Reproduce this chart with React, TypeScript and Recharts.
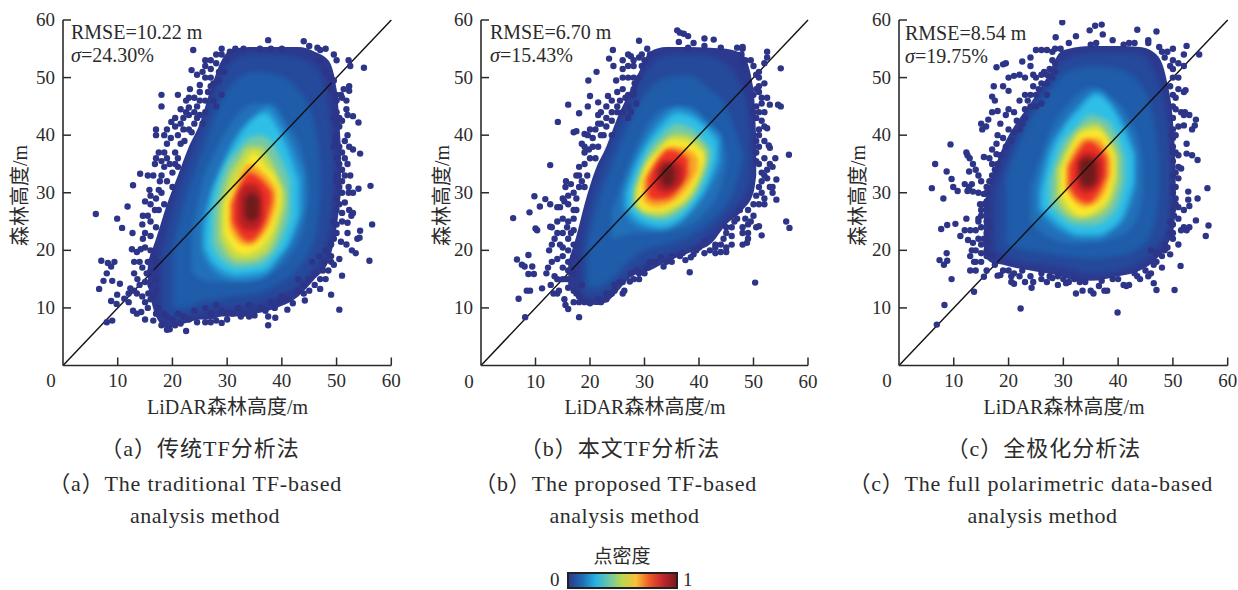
import React from 'react';
import { ComposedChart, Area, Scatter, XAxis, YAxis, ReferenceLine } from 'recharts';

type Row = [number, number, number];
type Pt = [number, number];

const xTicks = [0, 10, 20, 30, 40, 50, 60];
const yTicks = [10, 20, 30, 40, 50, 60];

// colours of the density levels, outer to inner
const levelColors = ['#2b3a8f', '#25499b', '#1f5ca9', '#2270b8', '#2390d0', '#2fbfe6', '#74c9a6', '#c5da4b', '#fde92c', '#f8a228', '#ee3225', '#b71f24', '#6e1b1b'];
const barColors = ['#2b3a8f', '#1f6cb5', '#27b3e0', '#6cc7a8', '#bcd64f', '#f8c23a', '#ef5a28', '#c2272d', '#7a1c1c'];
const dotColor = '#2c3587';

// density contours: [x, lower y, upper y]
const levelsA: Row[][] = [
  [[15.5,14,18],[17,8.5,22],[19,6.5,28],[21,7,33],[23,7.5,38],[25,8,42],[27,8,48],[29,8.5,53],[31,8.5,55],[35,9,55.3],[39,10,55.3],[43,12,55.3],[46,15,54.5],[48.5,18,53],[50,24,48],[50.8,30,38]],
  [[18,9,19],[20,8,27],[22,8.5,33],[24,9,38],[26,9.5,43],[28,10,48],[30,10,52],[34,10.5,54],[39,12,54],[43,14,53.5],[46,17,52],[48,21,48],[49,26,42],[49.5,32,36]],
  [[20,10,20],[22,10,28],[25,11,36],[28,11.5,44],[31,12,49],[35,12.5,51],[39,14,50.5],[43,17,48],[46,22,42],[47,29,36]],
  [[23.5,16.5,23],[25,15,30],[28,14.5,37.5],[31,14.5,42.5],[35,14.8,45.5],[38,16,45.5],[41,18.5,42],[44,24,36],[44.8,29,32]],
  [[25.3,20,25],[27,17,30],[29,15.5,35],[32,14.8,40.5],[35,15,43.5],[37.5,16,45],[40,19,42],[42,22,38],[44,27,33]],
  [[26,20.5,23.5],[27,18.5,29],[28.5,17,33],[30,16.2,36],[32,15.8,39.5],[34,16,42],[37,16.6,43.8],[39,18.6,41.5],[41,21,37.5],[43,26,32]],
  [[27.3,21,26],[28.5,19,31],[30,17.7,35],[32,17,37.5],[34,17.2,39.5],[36,17.5,40],[38,19,39],[40,22,35.5],[41.5,26,32]],
  [[28.6,22,27],[30,19.5,32],[32,18.2,35.5],[34,18.2,38],[36,18.8,38],[38,20.5,35.5],[39.5,24,32.5],[40.6,28,30]],
  [[29.5,23,28],[31,20.5,31],[33,19.3,34.5],[35,19.8,37],[37,21.5,34.5],[38.5,24,33],[39.7,28,30.5]],
  [[30.4,24,28],[32,21.5,32],[34,20.8,35],[36,22,34],[38,25,32],[39,28,30.5]],
  [[30.9,25,28],[32,23,30.5],[34,21.5,33.5],[36,23,32.5],[37.5,26,31],[38.2,28.5,30]],
  [[32,25,29.5],[33.5,23.5,31.5],[35,23.5,31.5],[36.5,25.5,29.5]],
  [[33.2,26,29],[34.5,25,30],[35.8,26,29]],
];

const levelsB: Row[][] = [
  [[16,14,18],[17.5,12,22.5],[19,10.8,28],[21,10.5,34],[23,11,38],[25,12.8,43],[27,15,47],[29,16,51],[31,16.5,54.5],[34,18,55.3],[38,19.5,55.3],[42,21,55.2],[45,24.5,55],[48,27,54],[50,30,48],[50.5,33,40]],
  [[18.5,13,20],[20,12,28],[22,12,34],[25,14,41],[28,16.5,47],[31,18,52],[35,19.5,54],[40,21.5,54],[44,25,53],[47,28,50],[49,31,44],[49.5,34,38]],
  [[19.5,14,21],[21,13.5,27],[24,15,35],[27,18,42],[30,20,47],[34,21,50],[38,22.5,50.5],[42,25,48],[45,28,45],[47,32,40],[48,36,37]],
  [[24,22,27],[26,22.5,32],[28,23,37],[30,23,41],[34,23.3,44.8],[38,24.3,45],[41,26.5,43],[44,31,39.5],[45,35,37]],
  [[26,27,30],[27.5,25,34],[30,23.8,39],[33,23.5,43],[36,24.5,44.8],[39,27,44],[42,31,41.5],[44,35,40]],
  [[26.8,27.5,30],[28,26,33.5],[30,24.8,37.5],[33,24.1,41.5],[36,25,43.8],[39,27.8,43],[41.5,31.5,41],[43.3,36,39]],
  [[28,27.5,31],[30,26,36],[33,25.3,40],[36,26.2,42],[39,29,41],[41,32.5,39],[42.2,36,37.5]],
  [[28.2,28,30],[30,26.5,34.5],[33,26,38.5],[36,27.2,40.2],[39,30,39.5],[41.2,35,37.5]],
  [[28.8,28,30.5],[30,27,34],[32.5,26.8,37],[35,27.5,39.2],[38,29.7,38.8],[40,33,37.5],[40.9,35.5,36.8]],
  [[29.8,28.5,32],[32,27.5,35.5],[35,28.3,38],[38,31,37.5],[39.8,34,36]],
  [[30.5,29.5,32.5],[32,28.7,35],[34.5,29,37.5],[36.5,31,37],[38,33,36]],
  [[32,31,33.5],[33.5,30,35.5],[35.5,30.5,35.5],[37,32,34.5]],
  [[33,32,34],[34.2,31,35],[35.5,32,34.2]],
];

const levelsC: Row[][] = [
  [[15.5,19,28],[17,17.8,33],[19,17.5,38],[21,17,41.5],[24,16.5,45.5],[27,16,50],[29.5,15.5,54.5],[31,15,55],[35,14.7,55.5],[40,15.5,55.5],[44,16.5,55.3],[47,18.5,54],[49,21,49],[50.2,24,40],[50.5,28,34]],
  [[17.5,20,30],[20,18.8,37],[23,18,43],[27,17.5,49],[30,17,53],[35,16,54.2],[40,16.5,54.3],[44,18,54],[47,20.5,50],[49,24,42],[49.5,29,36]],
  [[19.5,21,33],[23,20,41],[27,19.5,47],[30,19,50.5],[35,18.5,52],[40,19,51.5],[44,20.5,49],[46.5,24,43],[47.5,30,36]],
  [[24,25,31],[26,23,36.5],[28,22,41.5],[31,21.2,45.5],[35,21.3,48.3],[39,22,46.5],[42,23.5,43],[44,27,38],[44.5,30,35]],
  [[25.3,27,31],[27,25,37],[30,23,42],[33,22,45.5],[36,22,47.8],[39,23.5,45.5],[41.5,26,41.5],[43.3,31,37]],
  [[26,27.5,30],[27.5,26,36],[30,24,41],[33,22.8,44.5],[36,22.8,47],[39,24,44.5],[41,26.5,41],[42.8,32,36.5]],
  [[27.5,28,32],[29.5,26,38],[32,24.5,41],[35,24.3,43.5],[38,25.5,42.5],[40,28,39.5],[41.2,32,36]],
  [[28.8,29,34],[30.5,26.5,37.5],[33,25.5,41],[36,26,42],[38.5,28,39.5],[40,32,36.5]],
  [[29.6,30,34],[31,27.5,37],[33.5,26,40.5],[36,27,41],[38.3,29.5,38.5],[39.3,33,36]],
  [[30.5,30.5,34.5],[32,28.5,37.5],[34,27.5,39.5],[36,28.2,39.5],[38,31,37.5],[38.7,33.5,35.5]],
  [[31,31,34.5],[32.5,29,37],[34.5,28.2,39],[36.5,30,38],[37.9,33,36]],
  [[32.5,31,35],[34,30,37],[36,31,36.5],[37,33,35.5]],
  [[33,32,35.5],[34.5,31,36],[36,32,35]],
];

// sparse samples at the rim of each cloud: [x, y]
const dotsA: Pt[] = [
  [6,26.3],[9.9,25.5],[10.8,23.9],[11.8,27.6],[12.8,31.3],[14.1,33.3],[7,18.2],[8.2,17.8],[9.4,18],[8.8,17.2],[8,16],[7.4,14.7],[6.6,13.3],[9,14.7],[10.4,14.2],[8.8,11.2],[9.9,12.3],[9.8,10.7],[8,7.5],[9,7.8],[11.2,11.6],[12,11],[12.3,13.4],[12.7,23],[12.6,20.2],[13.5,19.7],[14.2,20.2],[13,18],[14,18],[13,16],[13.6,15],[14.5,17],[15.3,16],[15,14.5],[13.5,12.5],[12.8,9.5],[13.5,9],[14.3,9.3],[15,8],[15.5,10],[16.5,7.8],[14.5,12],[15.6,12.5],[16,16.5],[14.5,24.5],[14.6,26],[15,23],[14.6,22],[15,28.5],[16,28],[16.8,27],[17.5,27],[18.5,28],[16,25],[17,24],[15.8,30.5],[15.5,33],[16.5,33],[16.8,35],[17,36],[17.7,32],[18,30],[19,32],[20,31],[17,41],[17,40],[18,45],[18,47],[17.5,37],[18.5,37],[19,38.5],[19.7,39.5],[19.8,42.3],[19.5,35],[20.5,37],[21,40],[21.5,38.5],[22.2,39],[21,47],[22.5,44],[23,43.5],[22.5,46],[23,41],[24,42],[23.5,40.5],[24,44],[24.5,45],[25,46],[23.2,48],[23.5,51.3],[24.5,50.5],[25,48.7],[23.8,54.8],[26,52],[26,53],[27,50],[27,48.5],[27.5,46],[28,45],[26,44],[27,51.5],[28,52.5],[29,54],[29,55],[27.5,49],[29,47],
  [18,7],[19,6.2],[19.5,6.3],[20.5,7],[21.5,7.3],[22.5,6],[23,8],[24.5,7.5],[26,7.5],[27,7.5],[28,7.8],[29,7.4],[30,9],[30,8],[32.5,8.5],[34,8.5],[35,8.7],[37.5,7],[37.5,8.5],[38.8,8.3],[38.7,10],[41,9.7],[42,10.8],[44.2,11.3],[43,13],[40,12],[38,11],[36,10],[34,10.5],[32,10],[28,10.5],[26,10],[24,9.5],[21,9],[19,8.5],[17.5,10],
  [50.5,9.7],[49,12.3],[51,15.6],[47,13.3],[45,15],[46,16],[47.5,16.5],[48.5,16.5],[49.5,17.5],[50.5,18.5],[49,19],[47.8,18],[46.8,19],[45.5,18],[44,14],[43,15],[53.5,19.5],[52.8,20],[56,18.2],[56.5,24.5],[54.3,23.4],[53.8,22],[54.2,22.2],[52,23],[51.8,21],[50.8,21.5],[50,23],[50,24.5],[51,25],[52,24.8],[52.7,26],[53,26.5],[52.3,27],[51.5,28.3],[50.5,28],[52.2,30],[53,30],[54,30.7],[56.2,31.2],[52.2,31],[50.5,31],[51.5,33],[52.5,33],[51,34],[50,33],[52,35],[50,36],[54.3,36.8],[53,37.5],[52.3,38],[51.5,39],[52,40],[50,40],[49.5,38],[54,42.2],[52,43.5],[53,43.3],[51.8,44.5],[50,44],[50.5,41.5],[51.8,46],[51,46.5],[50.8,47],[52.3,47.7],[52.3,48.5],[51.3,48],[49.5,49.5],[52.5,52],[52.2,53],[55,51.7],[50,53],[49.5,54],[48,55],[47,54.8],[46.5,55.2],[45,55.5],[44,56.3],[37.5,56.5],[38,55],[40,55],[36,55],[33,55],[31.5,55],[47,53],[48,51],[49,50],
  [15.5,18],[16,20],[16.5,19],[17,18],[15,20.5],[16,22.5],[15.5,26],[17,29],[16,29.5],[17.5,30.5],[18,33],[18.5,34.5],[18,35.5],[19,36],[20,33.5],[20.5,35],[21,36],[21,34.5],[18.5,40],[19,41],[20.5,41.5],[20.5,43],[21.5,42],[22,41],[22,43],[21.5,44.5],[23,44.8],[24,46.5],[23,46.5],[24.5,43],[25,43.5],[25.5,42],[26,46],[25,47.5],[26.5,47.5],[26,50],[25.5,51],[27,53],[28,54],[28.5,49.5],[28.5,51],[29.5,51],[30,53],[30.5,54.5],[13,13],[14,14],[16,14],[17,13],[16,11.5],[17,9],[18.5,9],[20,8],[22,8.5],[16.5,12],[17,15],[15,11],[12,12.5],
  [49,48],[50,47],[50,46],[49.5,43],[50.5,43],[50,42],[51,42.5],[49.8,39],[50.5,38],[51,37],[51.5,36],[50.5,35],[50,32],[51,32],[51,30],[50,29],[50,27],[51,26.5],[49.5,25],[49.5,22],[49,21],[48,20],[49,18],[48,15],[47,15],[46,14],[45,13],[44,12.5],[41,11.5],[39.5,11],[37,9.5],[33,9],[31,9],[29,9.5],[27,9],
];

const dotsB: Pt[] = [
  [5.9,25.6],[6.6,18.4],[8.7,19.2],[7.5,17.5],[8,17.2],[9.4,17.2],[8.7,15.9],[9.7,15.9],[8.4,13],[9,13],[6.9,11.6],[8.1,8.4],[11.2,13.4],[9.8,29.4],[8.9,26.6],[10.8,27.6],[11.8,28.9],[12.7,28],[12.7,34.8],[14.1,42.3],[10,23.8],[10.3,23.5],[12.7,24.1],
  [13,24],[14,23],[13.5,22],[13,21],[12.5,20],[14.5,21],[15,19],[14,18.5],[13,18],[12.3,17],[12,16],[13.5,15.5],[15,15],[14,15],[15.8,15],[16,16.5],[12.8,14],[13.3,12.5],[14,12.5],[14.3,13],[15.3,11.5],[15.5,10.5],[16,9.8],[18,8.4],[14,25],[15,25.5],[16,25],[15.8,24],[15,23],[16,22],[17,25.5],[14.5,27.5],[14,27.5],[15,29],[15.3,28.5],[16,28],[15.5,31],[15.6,32],[16.5,31.5],[17,30],[17.5,33],[18,34.5],[19,35],[19.5,33],[17.5,27],[18.5,38.5],[19,40.2],[19.6,40],[19.8,37.5],[20.5,38],[21,41],[22,40],[21.5,42],[19.6,45],[20,46.8],[19.7,49.5],[21.5,45.7],[21.2,51],[23,45],[16,45.3],[18,43.8],[17,40.5],[17.5,40.7],[21.5,43.5],[23,41.5],[24,42.5],[24,44],[25,44],[23.3,46.8],[24.8,49.5],[24.2,54.8],[23.5,53.3],[24.3,52],[26,53],[27,54],[27.5,53.7],[28,52],[29,53.5],[29,56.4],[27,50],[28,50],[26,48],[26.5,46.5],[27.5,44],[25.5,46],[27,43],[28.2,49],[29,50],[30,53],[31,54],[30.5,55],
  [36,58.2],[36.5,57.8],[37.2,57.6],[38,57.2],[36.3,56.2],[38,55.2],[39,56],[41,56.8],[42.7,56.6],[41,55.5],[44,55.2],[47,55.2],[48,55],[48,55.3],[47.8,54],[48.5,53],[48,52.5],[49.5,53],[50,52],[52.5,54.5],[52.5,53.5],[52,52.5],[55,51.6],[51,51],[50.5,50.5],[51,50],[52,49],[50.5,48],[51,47.5],[51.5,46.5],[52.5,46.5],[51.5,45.5],[53,45.3],[54.5,45.3],[55,45],[51,44],[52,44],[51.5,42.5],[52,41.5],[52.5,41.2],[51,41],[50.5,39],[52,39],[52.8,38.2],[53,37.8],[50.5,37],[52,36],[53,35],[54,36],[53.5,34.5],[52.5,34],[51.5,33.5],[52.5,32.5],[54.2,32.3],[51.5,32],[53,31],[53.5,30],[53.5,31],[52,29],[54.2,28.8],[52,28],[51,28],[56.5,36.6],[56,25],[56.6,23.9],[50.3,14.4],
  [50.5,24],[51,24.2],[51.5,22.6],[49,24.5],[48,24],[48,23],[49,22],[48,21],[48.8,21.3],[48.5,25.5],[47.5,27],[46.5,25],[45,24],[45,23],[46,22.5],[46,21],[45,20.5],[44,21],[43,21],[42,20],[43,19.5],[44,19.7],[45,19.7],[41,21.5],[40,20.5],[39,19.3],[38.5,18.8],[37.5,18.3],[38.3,16.2],[36.5,19],[35,19],[35,18],[34,18],[33.5,17.2],[32,18],[31,18],[30,16],[29,16],[28,15],[27.3,14.6],[27.5,16],[25.5,14.5],[26,12.5],[26.3,13],[24.5,13],[24.5,14],[23,12.5],[22,11],[21.5,11.5],[20,10.8],[19,11],[18,11],[17.5,12.5],
  [15,17],[16,18],[15,20.5],[16,20],[17,21],[16.5,23],[17,23.5],[17,27],[16,29.5],[17.5,29],[18,31],[18.5,32],[18,33],[19,31],[19,37],[20,36],[19,38],[20.5,39.5],[20,41],[21.5,38],[21,36],[22,42],[22.5,40],[22,44],[23,43],[24,40],[24,46],[25,45],[25,47.5],[26,44],[26,50],[26,51.5],[27,47],[27,45],[28,47],[28,48],[28.5,45.5],[28,53],[29.5,52],[29.5,54],[27,52],[17,19],[17,16],[16,13.5],[17,13],[17,11],[18,12],[18.5,14],
  [50,47],[51,48.5],[50.5,45],[50,44],[50.5,43],[51,40],[51,38],[50.5,35.5],[51,35],[52,33],[51,31],[51.5,30],[50.5,29.5],[50,28],[49,27],[47,25.5],[46,24],[44.5,22],[43,20.5],[41,19.5],[39.5,20],[37,19.5],[33,18.8],[30.5,17],[29,15],[28.5,16.5],[26,14.5],[24,12.5],[23,11.5],[49.5,25],[50,26],[49,23],
];

const dotsC: Pt[] = [
  [6,30.8],[6.6,35],[8.1,29],[8.7,33.7],[9.4,38.4],[9.6,32.4],[9.9,31],[10.7,30.3],[7.7,23.7],[8.8,24.4],[10.3,24.6],[7.4,18.3],[8.7,19.5],[8.8,18.2],[8.2,17.5],[9.6,15],[8.3,10.5],[6.9,7.1],[13.7,12.8],[22.2,9.9],[39.9,9.2],
  [12,31.5],[12.8,31],[12.5,30.3],[13.5,30.2],[14.5,30],[13.3,31.5],[12.8,33.7],[13.5,35],[14,34],[14.5,33],[15,32],[16,31],[15.5,29.8],[12.3,37],[12.5,36.5],[12.9,36],[15.5,36.2],[16.5,36],[17,35],[17,37.5],[17.8,36.7],[15,42],[15.2,41],[15.9,41.5],[16.3,42.7],[17,44],[18,44.2],[17,46.7],[17.5,46],[17.3,48.5],[17.8,51.8],[19,52.3],[19.5,52.5],[20,50],[19,48.5],[20,47.7],[18.5,42],[18,40],[17.8,38.5],[19,39.5],[20,41],[19.5,43.5],[21,44],[20,44.5],[21.5,42.5],[22,50.5],[21,50.3],[22.5,52.8],[23,50],[24,53.5],[24,52],[24.5,50.5],[25,50],[22,46],[23,47],[23.5,46],[25,47],[25,45],[26,45.5],[27,47],[27,49],[26.5,51],[25,54.8],[26,54.8],[27,54.8],[28,54.5],[28.5,55],[29.5,55],[28,53],
  [29.8,59.6],[28.6,57],[31,56],[32.3,57.2],[34.8,58.2],[35.8,59],[37,59.2],[37.2,57.5],[39,56.5],[35,55.7],[36,56],[41,55.7],[42,56],[43,56],[43.5,58.3],[47,58],[45.5,56.5],[45.5,56],[47.5,55.3],[48,54.5],[49,54.5],[50,55],[48.5,53.5],[50,53],[49.5,52],[50,51.5],[52.5,55.5],[52,54],[51,52.5],[52,52],[54.8,54],[51,50],[51,48],[52,47.5],[52.3,47.8],[50.5,46.5],[50,45],[50.5,44.5],[51.5,44],[52.2,44],[52,43.5],[53,43.5],[54.2,42.7],[54,41.7],[53.5,41],[52,41.7],[51,41.5],[50,41],[50,39.5],[50,38],[52.5,38.5],[50.5,37],[51,36.5],[52.5,36.8],[53.5,36.5],[54.5,35.7],[50,35.5],[51,34.5],[51.5,34.2],[50,33],[51,32.5],[50,31],[50,30],[52.8,30.2],[56.3,30.8],[54.5,29],[52.8,28.8],[53,27.7],[52,27],[51,27.5],[50,27],[51,25.5],[50,24.5],[52,24],[53,24],[52.5,23.5],[51.5,23.5],[54.2,25.2],[56.5,24.3],[56,22.5],[50,23],[50,22],[51,21],[49,20.5],[49.5,19.3],[51.4,17.3],[50.3,13.1],[47,13.1],[46.5,14.3],[45.5,15.5],[46,16],[48,17],[47,18],[47,19.5],[46,20],
  [44,15],[43.5,15.5],[42,14],[41.5,13.8],[41,14],[38,13],[37.5,13],[36.5,13.8],[35.5,12.5],[35,13],[33.5,13],[32.3,12.5],[33,14.5],[31,14.5],[30.5,14.3],[29,14],[29,15.5],[28,15.2],[27.5,15.5],[24.5,14.5],[24.2,13.5],[23,14.5],[21,14.2],[20.5,14.5],[20.5,15.5],[18.5,15.7],[18,15.6],[15.5,15.4],[16,16.5],[13,16.5],[14,16.5],[13.7,18],[13,19],[13.3,20],[14,18],[15,18],
  [11.2,22.5],[12,23.5],[13,23.5],[14,23.5],[12.6,21.8],[13.5,21.3],[14.5,22],[15,21],[16,21.5],[12.3,25.5],[14.5,25.5],[15,26],[15,27],[14.8,28],[16,27],[16.5,24],[16,23],
  [14.5,25],[15,24],[16,25],[15.5,22],[14,20],[15,19.5],[16,19],[16,20],[17,19],[17.5,17.5],[19,16.5],[20,16.5],[21,16],[22,15.5],[22.5,16.5],[24,15.5],[26,15],[27,14.5],[15.5,28],[16,28.5],[16,30],[16.5,32],[17,33],[17.5,34],[18,35],[18.5,36.5],[19.5,38],[20.5,39],[21,40.5],[22,41],[22.5,42],[23,43],[23,44.5],[24,45],[24,47],[24.5,48.5],[25.5,48],[26,49],[26,50.5],[27,50.5],[27.5,51.5],[28.5,51],[28.5,52.5],[28,50],
  [50,50],[49.5,48.5],[50,47],[50,43],[49.8,40],[50.5,40],[50,37],[50.5,33.5],[50.5,31],[50.5,29],[50.5,28],[50.2,26],[49.5,25],[49.5,23],[48.5,21],[48.5,20],[48,19],[46.5,17.5],[45,16.5],[43,16],[40,15],[39,15],[37,14.7],[34,14.5],[32,15],[30,15],[26,16],
];

const serif = '"Liberation Serif", "Noto Sans CJK SC", serif';
const ink = '#2b2b2b';

function XTick({ x, y, payload }: any) {
  const dx = payload.value === 0 ? -12 : 0;
  return (
    <g>
      {payload.value !== 0 && <line x1={x} x2={x} y1={y} y2={y - 8} stroke={ink} strokeWidth={1.5} />}
      <text x={x + dx} y={y + 22} textAnchor="middle" fontSize={19} fontFamily={serif} fill={ink}>{payload.value}</text>
    </g>
  );
}

function YTick({ x, y, payload }: any) {
  return (
    <g>
      <line x1={x} x2={x + 8} y1={y} y2={y} stroke={ink} strokeWidth={1.5} />
      <text x={x - 8} y={y + 6} textAnchor="end" fontSize={19} fontFamily={serif} fill={ink}>{payload.value}</text>
    </g>
  );
}

interface PanelProps {
  left: number;
  plotWidth: number;
  levels: Row[][];
  dots: Pt[];
  rmse: string;
  sigma: string;
  noteX: number;
  noteY: number;
  xLabelX: number;
  yLabelX: number;
}

function Panel({ left, plotWidth, levels, dots, rmse, sigma, noteX, noteY, xLabelX, yLabelX }: PanelProps) {
  const dotData = dots.map(([x, y]) => ({ x, y }));
  return (
    <>
      <div style={{ position: 'absolute', left: left - 45, top: 0, width: plotWidth + 75, height: 420 }}>
        <ComposedChart
          width={plotWidth + 75}
          height={420}
          margin={{ top: 20, right: 30, bottom: 24.5, left: 5 }}
        >
          <XAxis
            type="number"
            dataKey="x"
            domain={[0, 60]}
            ticks={xTicks}
            height={30}
            interval={0}
            tickSize={0}
            tickMargin={0}
            tickLine={false}
            tick={<XTick />}
            axisLine={{ stroke: ink, strokeWidth: 1.6 }}
            allowDataOverflow
          />
          <YAxis
            type="number"
            dataKey="y"
            domain={[0, 60]}
            ticks={yTicks}
            width={40}
            interval={0}
            tickSize={0}
            tickMargin={0}
            tickLine={false}
            tick={<YTick />}
            axisLine={{ stroke: ink, strokeWidth: 1.6 }}
            allowDataOverflow
          />
          {levels.map((rows, i) => (
            <Area
              key={i}
              className={i === 0 ? undefined : 'soft'}
              data={rows.map(([x, lo, hi]) => ({ x, band: [lo, hi] }))}
              dataKey="band"
              type="monotone"
              stroke="none"
              fill={levelColors[i]}
              fillOpacity={1}
              dot={false}
              activeDot={false}
              isAnimationActive={false}
            />
          ))}
          <Scatter data={dotData} dataKey="y" fill={dotColor} isAnimationActive={false} shape={(p: any) => <circle cx={p.cx} cy={p.cy} r={3.2} fill={dotColor} />} />
          <ReferenceLine segment={[{ x: 0, y: 0 }, { x: 60, y: 60 }]} stroke="#111" strokeWidth={1.4} />
        </ComposedChart>
      </div>
      <div style={{ position: 'absolute', left: noteX, top: noteY, font: `20px ${serif}`, color: ink, lineHeight: '23px', whiteSpace: 'nowrap' }}>
        <div>RMSE={rmse} m</div>
        <div><i>σ</i>={sigma}%</div>
      </div>
      <div style={{ position: 'absolute', left: xLabelX - 120, width: 240, top: 391, textAlign: 'center', font: `20px ${serif}`, color: ink, whiteSpace: 'nowrap' }}>LiDAR森林高度/m</div>
      <div style={{ position: 'absolute', left: yLabelX - 60, top: 181, width: 120, textAlign: 'center', transform: 'rotate(-90deg)', font: `20px ${serif}`, color: ink, whiteSpace: 'nowrap' }}>森林高度/m</div>
    </>
  );
}

function Caption({ cx, right, top, text, spacing }: { cx?: number; right?: number; top: number; text: string; spacing: number }) {
  const box: React.CSSProperties = right !== undefined
    ? { left: right - 500, width: 500, textAlign: 'right' }
    : { left: (cx as number) - 250, width: 500, textAlign: 'center' };
  return (
    <div style={{ position: 'absolute', ...box, top, font: `22px ${serif}`, letterSpacing: spacing, color: ink, whiteSpace: 'nowrap' }}>{text}</div>
  );
}

export default function App() {
  return (
    <div style={{ position: 'absolute', left: 0, top: 0, width: 1238, height: 590, background: '#fff', overflow: 'hidden' }}>
      <style>{'.soft { filter: blur(2.4px); }'}</style>
      <Panel left={62.7} plotWidth={328.3} levels={levelsA} dots={dotsA} rmse="10.22" sigma="24.30" noteX={71} noteY={21} xLabelX={227.5} yLabelX={18} />
      <Panel left={480.7} plotWidth={327} levels={levelsB} dots={dotsB} rmse="6.70" sigma="15.43" noteX={490} noteY={21} xLabelX={645} yLabelX={440} />
      <Panel left={899} plotWidth={328.7} levels={levelsC} dots={dotsC} rmse="8.54" sigma="19.75" noteX={905} noteY={22} xLabelX={1064} yLabelX={856} />

      <Caption cx={200} top={430} spacing={1} text="（a）传统TF分析法" />
      <Caption right={342} top={465} spacing={0.8} text="（a）The traditional TF-based" />
      <Caption cx={205} top={503} spacing={0.5} text="analysis method" />
      <Caption cx={620} top={430} spacing={1} text="（b）本文TF分析法" />
      <Caption right={757} top={465} spacing={0.8} text="（b）The proposed TF-based" />
      <Caption cx={624.5} top={503} spacing={0.5} text="analysis method" />
      <Caption cx={1044} top={430} spacing={1} text="（c）全极化分析法" />
      <Caption right={1213} top={465} spacing={0.8} text="（c）The full polarimetric data-based" />
      <Caption cx={1042.5} top={503} spacing={0.5} text="analysis method" />

      <div style={{ position: 'absolute', left: 522, width: 200, top: 541, textAlign: 'center', font: `19px ${serif}`, color: ink }}>点密度</div>
      <div style={{ position: 'absolute', left: 550, top: 569, font: `19px ${serif}`, color: ink }}>0</div>
      <div style={{ position: 'absolute', left: 683, top: 569, font: `19px ${serif}`, color: ink }}>1</div>
      <div style={{ position: 'absolute', left: 567, top: 572, width: 107, height: 13, border: '2px solid #222', background: `linear-gradient(to right, ${barColors.join(', ')})` }} />
    </div>
  );
}
